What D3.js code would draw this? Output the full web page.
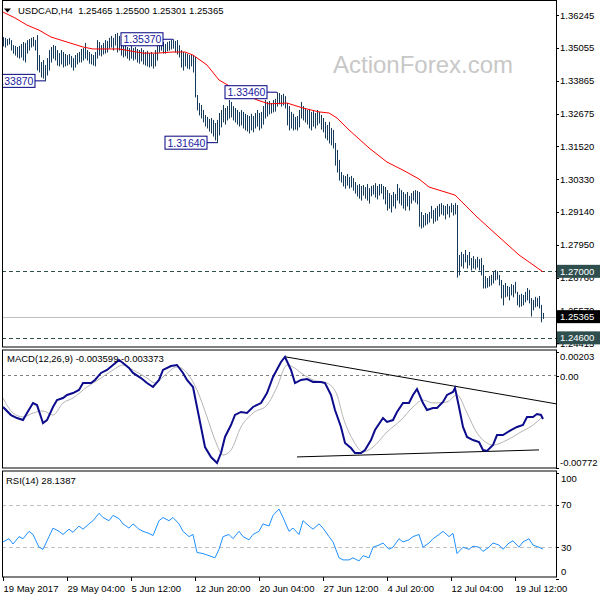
<!DOCTYPE html>
<html><head><meta charset="utf-8">
<script src="https://cdn.jsdelivr.net/npm/d3@7"></script>
<style>body{margin:0;background:#fff;} svg{display:block;font-family:"Liberation Sans",Arial,sans-serif;}</style>
</head><body><svg id="c" width="600" height="600"></svg>
<script>
const symbol = "USDCAD,H4";
const lastOHLC = ["1.25465","1.25500","1.25301","1.25365"];
const highs = [1.3545,1.3542,1.3538,1.3542,1.3534,1.3516,1.3513,1.3509,1.3513,1.3520,
1.3527,1.3524,1.3534,1.3538,1.3542,1.3545,1.3534,1.3552,1.3480,1.3455,
1.3462,1.3444,1.3469,1.3498,1.3509,1.3516,1.3513,1.3498,1.3487,1.3498,
1.3491,1.3484,1.3480,1.3484,1.3477,1.3469,1.3480,1.3487,1.3491,1.3502,
1.3505,1.3524,1.3498,1.3491,1.3484,1.3480,1.3491,1.3534,1.3527,1.3516,
1.3524,1.3534,1.3531,1.3542,1.3549,1.3542,1.3556,1.3560,1.3549,1.3516,
1.3513,1.3520,1.3509,1.3505,1.3513,1.3505,1.3509,1.3502,1.3498,1.3505,
1.3498,1.3491,1.3495,1.3487,1.3491,1.3484,1.3498,1.3534,1.3531,1.3534,
1.3527,1.3520,1.3527,1.3531,1.3534,1.3537,1.3531,1.3534,1.3516,1.3498,
1.3491,1.3487,1.3484,1.3480,1.3484,1.3480,1.3473,1.3336,1.3307,1.3300,
1.3282,1.3264,1.3257,1.3250,1.3253,1.3246,1.3235,1.3246,1.3271,1.3282,
1.3300,1.3289,1.3296,1.3318,1.3311,1.3296,1.3289,1.3282,1.3275,1.3282,
1.3275,1.3268,1.3264,1.3260,1.3268,1.3260,1.3271,1.3282,1.3271,1.3275,
1.3296,1.3318,1.3311,1.3314,1.3307,1.3318,1.3322,1.3346,1.3343,1.3336,
1.3340,1.3332,1.3307,1.3296,1.3275,1.3268,1.3257,1.3260,1.3282,1.3311,
1.3296,1.3289,1.3282,1.3286,1.3275,1.3278,1.3271,1.3282,1.3275,1.3264,
1.3253,1.3239,1.3228,1.3239,1.3217,1.3210,1.3163,1.3138,1.3102,1.3058,
1.3047,1.3044,1.3051,1.3040,1.3044,1.3036,1.3022,1.3011,1.3015,1.3008,
1.3011,1.3004,1.3015,1.3000,1.3008,1.3011,1.3018,1.3008,1.3015,1.3015,
1.3008,1.3004,1.2993,1.2982,1.2975,1.2986,1.2979,1.3015,1.3000,1.2993,
1.2986,1.2979,1.2986,1.2972,1.2982,1.2990,1.2993,1.2990,1.2986,1.2914,
1.2903,1.2910,1.2907,1.2914,1.2936,1.2921,1.2928,1.2936,1.2943,1.2946,
1.2939,1.2936,1.2943,1.2936,1.2946,1.2939,1.2946,1.2939,1.2759,1.2770,
1.2762,1.2777,1.2759,1.2770,1.2748,1.2755,1.2744,1.2752,1.2744,1.2748,
1.2723,1.2683,1.2676,1.2683,1.2687,1.2698,1.2705,1.2701,1.2687,1.2669,
1.2651,1.2658,1.2647,1.2644,1.2654,1.2651,1.2662,1.2626,1.2615,1.2619,
1.2615,1.2626,1.2640,1.2633,1.2604,1.2597,1.2608,1.2604,1.2611,1.2579,
1.25500];
const lows = [1.3513,1.3509,1.3516,1.3520,1.3498,1.3487,1.3480,1.3473,1.3469,1.3473,
1.3462,1.3455,1.3487,1.3498,1.3509,1.3513,1.3498,1.3426,1.3419,1.3401,
1.3397,1.3387,1.3408,1.3426,1.3455,1.3469,1.3462,1.3444,1.3441,1.3448,
1.3437,1.3441,1.3444,1.3448,1.3437,1.3426,1.3437,1.3448,1.3455,1.3455,
1.3462,1.3469,1.3462,1.3451,1.3448,1.3444,1.3441,1.3469,1.3480,1.3477,
1.3484,1.3487,1.3491,1.3505,1.3509,1.3498,1.3516,1.3491,1.3498,1.3480,
1.3473,1.3477,1.3469,1.3462,1.3469,1.3462,1.3466,1.3455,1.3451,1.3459,
1.3448,1.3444,1.3441,1.3437,1.3441,1.3433,1.3441,1.3462,1.3491,1.3498,
1.3487,1.3487,1.3495,1.3498,1.3502,1.3505,1.3491,1.3484,1.3473,1.3437,
1.3426,1.3441,1.3433,1.3430,1.3441,1.3419,1.3329,1.3282,1.3264,1.3253,
1.3239,1.3224,1.3217,1.3206,1.3199,1.3188,1.3174,1.3164,1.3192,1.3221,
1.3239,1.3231,1.3246,1.3253,1.3257,1.3246,1.3239,1.3231,1.3224,1.3228,
1.3217,1.3210,1.3206,1.3199,1.3210,1.3203,1.3217,1.3224,1.3210,1.3217,
1.3231,1.3253,1.3260,1.3268,1.3271,1.3275,1.3278,1.3296,1.3304,1.3296,
1.3300,1.3289,1.3228,1.3210,1.3217,1.3210,1.3213,1.3210,1.3221,1.3253,
1.3246,1.3239,1.3231,1.3217,1.3210,1.3224,1.3217,1.3228,1.3235,1.3213,
1.3203,1.3181,1.3174,1.3163,1.3156,1.3145,1.3083,1.3058,1.3029,1.3022,
1.3008,1.3000,1.3011,1.3000,1.3004,1.2993,1.2982,1.2972,1.2964,1.2957,
1.2975,1.2964,1.2957,1.2946,1.2972,1.2979,1.2968,1.2961,1.2975,1.2982,
1.2961,1.2943,1.2921,1.2928,1.2914,1.2936,1.2928,1.2957,1.2946,1.2939,
1.2928,1.2921,1.2936,1.2921,1.2946,1.2957,1.2950,1.2943,1.2863,1.2856,
1.2860,1.2867,1.2871,1.2878,1.2892,1.2874,1.2881,1.2885,1.2899,1.2907,
1.2903,1.2889,1.2907,1.2896,1.2914,1.2903,1.2907,1.2679,1.2687,1.2719,
1.2712,1.2734,1.2712,1.2723,1.2705,1.2712,1.2708,1.2715,1.2705,1.2687,
1.2640,1.2640,1.2643,1.2647,1.2651,1.2658,1.2669,1.2672,1.2651,1.2604,
1.2579,1.2608,1.2611,1.2597,1.2615,1.2608,1.2622,1.2579,1.2572,1.2575,
1.2579,1.2590,1.2597,1.2586,1.2539,1.2561,1.2572,1.2575,1.2568,1.2518,
1.25301];
// moving average (red) read at bar indices
const maBars = [0,6,12,18,24,32,40,45,58,70,77,85,91,95,102,108,115,122,127,133,142,150,158,163,167,173,183,192,200,208,213,226,237,248,258,270];
const maVals = [1.3635,1.3614,1.3588,1.3570,1.3545,1.3527,1.3509,1.3502,1.3502,1.3487,1.3487,1.3491,1.3491,1.3480,1.3444,1.3390,1.3361,1.3336,1.3318,1.3304,1.3307,1.3289,1.3275,1.3271,1.3253,1.3210,1.3145,1.3094,1.3065,1.3033,1.3004,1.2975,1.2896,1.2824,1.2759,1.2698];
// MACD main line
const macdBars = [0,4,7,10,12,15,17,19,20,22,25,27,30,32,35,38,40,44,46,49,52,55,58,60,63,65,69,72,75,78,80,84,87,90,92,95,97,99,101,104,107,109,111,114,116,119,122,125,129,132,135,139,141,144,146,149,152,155,159,161,164,166,169,171,174,176,179,181,184,186,190,192,195,197,200,203,205,207,210,212,215,217,220,222,225,226,228,230,232,235,238,240,242,245,247,250,254,257,260,262,265,267,269,270];
const macdVals = [-0.00259,-0.00327,-0.00352,-0.00369,-0.00310,-0.00226,-0.00243,-0.00343,-0.00394,-0.00369,-0.00259,-0.00201,-0.00184,-0.00158,-0.00142,-0.00116,-0.00058,-0.00058,-0.00032,0.00027,0.00052,0.00094,0.00136,0.00111,0.00069,0.00027,-0.00016,-0.00058,-0.00091,-0.00032,0.00052,0.00085,0.00094,0.00027,-0.00032,-0.00091,-0.00259,-0.00427,-0.00596,-0.00680,-0.00730,-0.00646,-0.00511,-0.00411,-0.00326,-0.00301,-0.00310,-0.00259,-0.00226,-0.00142,-0.00007,0.00119,0.00161,0.00052,-0.00058,-0.00032,-0.00024,-0.00049,-0.00049,-0.00058,-0.00158,-0.00285,-0.00427,-0.00562,-0.00604,-0.00646,-0.00646,-0.00621,-0.00537,-0.00453,-0.00352,-0.00385,-0.00369,-0.00301,-0.00226,-0.00226,-0.00158,-0.00108,-0.00226,-0.00285,-0.00268,-0.00268,-0.00217,-0.00158,-0.00133,-0.00100,-0.00259,-0.00427,-0.00511,-0.00537,-0.00554,-0.00621,-0.00629,-0.00579,-0.00495,-0.00495,-0.00453,-0.00427,-0.00411,-0.00343,-0.00343,-0.00318,-0.00326,-0.003599];
// MACD signal line
const signalBars = [0,5,10,15,20,25,30,35,42,49,55,60,65,72,76,80,87,92,97,102,106,110,114,119,125,132,137,142,145,149,155,162,167,170,175,180,185,192,199,205,210,215,222,227,232,237,242,245,252,259,265,270];
const signalVals = [-0.00184,-0.00310,-0.00343,-0.00310,-0.00293,-0.00327,-0.00226,-0.00184,-0.00091,-0.00016,0.00052,0.00094,0.00052,-0.00016,-0.00058,-0.00007,0.00077,0.00027,-0.00116,-0.00343,-0.00537,-0.00663,-0.00621,-0.00427,-0.00310,-0.00243,-0.00091,0.00094,0.00077,0.00027,-0.00032,-0.00058,-0.00158,-0.00343,-0.00537,-0.00637,-0.00596,-0.00469,-0.00369,-0.00259,-0.00201,-0.00226,-0.00217,-0.00158,-0.00310,-0.00478,-0.00562,-0.00579,-0.00537,-0.00469,-0.00411,-0.003373];
// MACD trend lines [bar, value]
const macdTrendUpper = [[141,0.00163],[277,-0.00234]];
const macdTrendLower = [[147,-0.00679],[268,-0.00620]];
// RSI(14)
const rsiBars = [0,3,5,8,10,13,15,18,20,23,25,28,30,33,35,38,40,43,45,48,50,53,55,58,60,63,65,68,70,73,75,78,80,83,85,88,90,93,95,97,100,103,106,108,110,113,115,118,120,123,125,128,130,133,135,138,140,143,145,148,150,153,155,158,160,163,165,168,170,173,175,178,180,183,185,188,190,193,195,198,200,203,205,208,210,213,215,218,220,223,225,227,230,233,235,238,240,243,245,248,250,253,255,258,260,263,265,268,270];
const rsiVals = [35,38,33,40,38,45,42,30,28,40,48,45,42,47,44,50,47,52,55,62,58,55,60,57,52,48,52,47,45,43,41,55,58,55,58,52,45,40,42,25,24,22,20,28,40,42,38,45,40,37,42,45,52,50,60,66,58,45,48,42,55,50,47,52,48,40,35,20,18,18,20,17,22,20,30,32,34,28,30,38,35,37,40,42,30,34,38,42,45,40,43,24,30,28,31,30,26,30,34,32,28,34,36,30,35,38,32,30,28.1387];
// axis texts
const timeTickBars = [0,32,64,96,128,160,192,224,256];
const timeTickLabels = ["19 May 2017","29 May 04:00","5 Jun 12:00","12 Jun 20:00","20 Jun 04:00","27 Jun 12:00","4 Jul 20:00","12 Jul 04:00","19 Jul 12:00"];
const priceTicks = [1.36245,1.35055,1.33865,1.32675,1.31520,1.30330,1.29140,1.27950,1.26760,1.25570,1.24415];
const levelLines = [1.27000,1.24600];
const bidPrice = 1.25365;
const annotations = [
  {bar:85, price:1.35370, label:"1.35370"},
  {bar:21, price:1.33870, label:"1.33870"},
  {bar:107, price:1.31640, label:"1.31640"},
  {bar:137, price:1.33460, label:"1.33460"}
];
const macdTicks = [0.00203, 0, -0.00772];
const macdTickLabels = ["0.00203","0.00","-0.00772"];
const rsiTicks = [100,70,30,0];
const rsiLevels = [70,30];

// ---------- drawing ----------
const svg = d3.select("#c");
const L = 2, R = 556;
const P = {main:[0.5,347], macd:[350,468], rsi:[471,577]};
const x = d3.scaleLinear().domain([0,270]).range([3,543]);
const y = d3.scaleLinear().domain([1.24415,1.36245]).range([343,15]);
const ym = d3.scaleLinear().domain([-0.00772,0.00203]).range([468,352]);
const yr = d3.scaleLinear().domain([0,100]).range([579,473]);
const FONT = 9.5;

const defs = svg.append("defs");
Object.entries(P).forEach(([k,[t,b]])=>{
  defs.append("clipPath").attr("id","clip-"+k).append("rect")
    .attr("x",L+0.5).attr("y",t).attr("width",R-L-0.5).attr("height",b-t);
});

// watermark
svg.append("text").attr("x",423).attr("y",73).attr("text-anchor","middle")
  .attr("font-size",24).attr("fill","#c8c8c8").text("ActionForex.com");

const gMain = svg.append("g").attr("clip-path","url(#clip-main)");
// level lines
gMain.selectAll("line.level").data(levelLines).join("line")
  .attr("x1",L).attr("x2",R).attr("y1",d=>Math.round(y(d))+0.5).attr("y2",d=>Math.round(y(d))+0.5)
  .attr("stroke","#2f4f4f").attr("stroke-dasharray","4,3");
gMain.append("line").attr("x1",L).attr("x2",R)
  .attr("y1",Math.round(y(bidPrice))+0.5).attr("y2",Math.round(y(bidPrice))+0.5)
  .attr("stroke","#c0c0c0");
// bars
gMain.selectAll("line.bar").data(highs).join("line").attr("class","bar")
  .attr("x1",(d,i)=>x(i)+0.5).attr("x2",(d,i)=>x(i)+0.5)
  .attr("y1",d=>y(d)).attr("y2",(d,i)=>y(lows[i])+0.5)
  .attr("stroke","#153a5a").attr("stroke-width",1);
// moving average
gMain.append("path").datum(maBars.map((b,i)=>[b,maVals[i]]))
  .attr("fill","none").attr("stroke","#ff0000").attr("stroke-width",1)
  .attr("d",d3.line().x(d=>x(d[0])).y(d=>y(d[1])));
// annotations
annotations.forEach(a=>{
  const bx = x(a.bar), by = y(a.price);
  const right = bx - 10, w = 42, h = 13;
  gMain.append("line").attr("x1",right).attr("x2",bx).attr("y1",by).attr("y2",by)
    .attr("stroke","#000080");
  gMain.append("rect").attr("x",right-w).attr("y",by-h/2).attr("width",w).attr("height",h)
    .attr("fill","#fff").attr("stroke","#000080");
  gMain.append("text").attr("x",right-w+2.5).attr("y",by+4)
    .attr("font-size",10.5).attr("fill","#1a1aa0").text(a.label);
});
// title
svg.append("path").attr("d","M4,8.5 L11,8.5 L7.5,12.5 Z").attr("fill","#000");
svg.append("text").attr("x",18).attr("y",14).attr("font-size",FONT).attr("fill","#000")
  .style("white-space","pre").text(symbol+"  "+lastOHLC.join(" "));

// MACD panel
const gM = svg.append("g").attr("clip-path","url(#clip-macd)");
gM.append("line").attr("x1",L).attr("x2",R).attr("y1",Math.round(ym(0))-0.5).attr("y2",Math.round(ym(0))-0.5)
  .attr("stroke","#808080").attr("stroke-dasharray","3,3");
[macdTrendUpper,macdTrendLower].forEach(t=>{
  gM.append("line").attr("x1",x(t[0][0])).attr("y1",ym(t[0][1]))
    .attr("x2",x(t[1][0])).attr("y2",ym(t[1][1])).attr("stroke","#000").attr("stroke-width",1);
});
gM.append("path").datum(signalBars.map((b,i)=>[b,signalVals[i]]))
  .attr("fill","none").attr("stroke","#b4b4b4").attr("stroke-width",1)
  .attr("d",d3.line().curve(d3.curveMonotoneX).x(d=>x(d[0])).y(d=>ym(d[1])));
gM.append("path").datum(macdBars.map((b,i)=>[b,macdVals[i]]))
  .attr("fill","none").attr("stroke","#0c0c8c").attr("stroke-width",2)
  .attr("d",d3.line().x(d=>x(d[0])).y(d=>ym(d[1])));
svg.append("text").attr("x",7).attr("y",362).attr("font-size",FONT).attr("fill","#000")
  .text("MACD(12,26,9) "+macdVals[macdVals.length-1].toFixed(6)+" "+signalVals[signalVals.length-1].toFixed(6));

// RSI panel
const gR = svg.append("g").attr("clip-path","url(#clip-rsi)");
gR.selectAll("line.lv").data(rsiLevels).join("line")
  .attr("x1",L).attr("x2",R).attr("y1",d=>Math.round(yr(d))+0.5).attr("y2",d=>Math.round(yr(d))+0.5)
  .attr("stroke","#c0c0c0").attr("stroke-dasharray","4,3");
gR.append("path").datum(rsiBars.map((b,i)=>[b,rsiVals[i]]))
  .attr("fill","none").attr("stroke","#1e90ff").attr("stroke-width",1)
  .attr("d",d3.line().x(d=>x(d[0])).y(d=>yr(d[1])));
svg.append("text").attr("x",6).attr("y",484).attr("font-size",FONT).attr("fill","#000")
  .text("RSI(14) "+rsiVals[rsiVals.length-1].toFixed(4));

// frames
const fr = svg.append("g").attr("fill","none").attr("stroke","#000");
Object.values(P).forEach(([t,b])=>{
  fr.append("rect").attr("x",L+0.5).attr("y",t).attr("width",R-L).attr("height",b-t);
});

// right axis: price
const ra = svg.append("g").attr("font-size",FONT).attr("fill","#000");
priceTicks.forEach(v=>{
  const yy = y(v);
  svg.append("line").attr("x1",R).attr("x2",R+3).attr("y1",Math.round(yy)+0.5).attr("y2",Math.round(yy)+0.5).attr("stroke","#000");
  ra.append("text").attr("x",560).attr("y",yy+3.5).text(v.toFixed(5));
});
function tag(v, fill, g){
  const yy = y(v);
  g.append("rect").attr("x",R+1).attr("y",yy-6.5).attr("width",600-R-1).attr("height",13).attr("fill",fill);
  g.append("text").attr("x",560).attr("y",yy+3.5).attr("fill","#fff").text(v.toFixed(5));
}
levelLines.forEach(v=>tag(v,"#2f4f4f",ra));
tag(bidPrice,"#000",ra);

// right axis: MACD
macdTicks.forEach((v,i)=>{
  let yy = ym(v);
  svg.append("line").attr("x1",R).attr("x2",R+3).attr("y1",Math.round(yy)+0.5).attr("y2",Math.round(yy)+0.5).attr("stroke","#000");
  const off = i===0 ? 8 : (i===2 ? -2 : 3.5);
  ra.append("text").attr("x",560).attr("y",yy+off).text(macdTickLabels[i]);
});
// right axis: RSI
rsiTicks.forEach((v,i)=>{
  const yy = yr(v);
  svg.append("line").attr("x1",R).attr("x2",R+3).attr("y1",Math.round(yy)+0.5).attr("y2",Math.round(yy)+0.5).attr("stroke","#000");
  const off = v===100 ? 8.5 : (v===0 ? -4 : 3.5);
  ra.append("text").attr("x",561).attr("y",yy+off).text(v);
});

// x axis
const xa = svg.append("g").attr("font-size",FONT).attr("fill","#000");
timeTickBars.forEach((b,i)=>{
  const xx = Math.round(x(b))+0.5;
  svg.append("line").attr("x1",xx).attr("x2",xx).attr("y1",577).attr("y2",581).attr("stroke","#000");
  xa.append("text").attr("x",xx).attr("y",592).text(timeTickLabels[i]);
});
</script></body></html>
